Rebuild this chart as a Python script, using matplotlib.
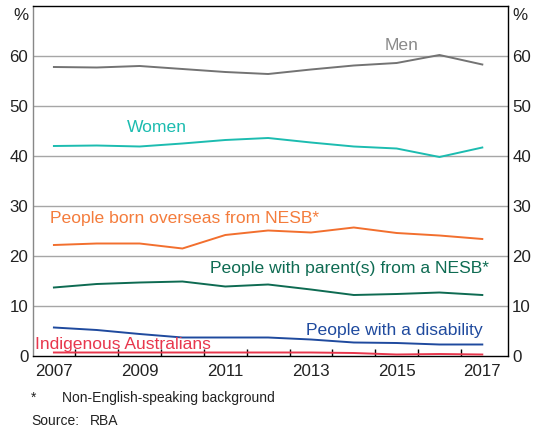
import matplotlib
matplotlib.use("Agg")
import matplotlib.pyplot as plt
from matplotlib.ticker import FixedLocator, NullFormatter

plt.rcParams['font.family'] = ['Liberation Sans', 'DejaVu Sans']

years = [2007, 2008, 2009, 2010, 2011, 2012, 2013, 2014, 2015, 2016, 2017]
men = [57.8, 57.7, 58.0, 57.4, 56.8, 56.4, 57.3, 58.1, 58.6, 60.2, 58.3]
women = [42.0, 42.1, 41.9, 42.5, 43.2, 43.6, 42.7, 41.9, 41.5, 39.8, 41.7]
born_nesb = [22.2, 22.5, 22.5, 21.5, 24.2, 25.1, 24.7, 25.7, 24.6, 24.1, 23.4]
parent_nesb = [13.7, 14.4, 14.7, 14.9, 13.9, 14.3, 13.3, 12.2, 12.4, 12.7, 12.2]
disability = [5.7, 5.2, 4.4, 3.7, 3.7, 3.7, 3.3, 2.7, 2.6, 2.3, 2.3]
indigenous = [0.7, 0.7, 0.7, 0.7, 0.7, 0.7, 0.7, 0.6, 0.3, 0.4, 0.3]

series = [
    ("Men", men, "#737373", "#8a8a8a", 402, 46, "center"),
    ("Women", women, "#1cbcb0", "#1cbcb0", 157, 128, "center"),
    ("People born overseas from NESB*", born_nesb, "#f26f2e", "#f47c3c", 50, 218, "left"),
    ("People with parent(s) from a NESB*", parent_nesb, "#0e6b52", "#0e6b52", 489, 268, "right"),
    ("People with a disability", disability, "#1f4a9e", "#1f4a9e", 483, 331, "right"),
    ("Indigenous Australians", indigenous, "#e8374d", "#e8374d", 35, 345, "left"),
]

W, H = 538, 428
fig = plt.figure(figsize=(W / 100, H / 100), dpi=100)
ax = fig.add_axes([32.5 / W, 1 - 356 / H, (508 - 32.5) / W, (356 - 6) / H])

ax.set_xlim(2006.5, 2017.6)
ax.set_ylim(0, 70)

for y in range(10, 70, 10):
    ax.axhline(y, color="#a6a6a6", lw=1.0, zorder=1)

for name, vals, lc, tc, px, py, ha in series:
    ax.plot(years, vals, color=lc, lw=1.4, zorder=3)
    fig.text(px / W, 1 - py / H, name, color=tc, fontsize=12.6,
             ha=ha, va="center")

# Year labels at mid-year, tick marks at year boundaries
ax.xaxis.set_major_locator(FixedLocator([y + 0.5 for y in years[:-1]]))
ax.xaxis.set_major_formatter(NullFormatter())
ax.tick_params(axis="x", which="major", direction="in", length=5,
               width=1, color="black")
for y in years[::2]:
    ax.text(y, -1.6, str(y), ha="center", va="top", fontsize=12.2,
            color="#222222", transform=ax.transData)

ax.set_yticks(range(0, 70, 10))
ax.tick_params(axis="y", which="both", length=0, labelsize=12.2,
               labelcolor="#222222", pad=3, labelleft=True, labelright=True)

for side in ["top", "right", "bottom"]:
    ax.spines[side].set_color("black")
    ax.spines[side].set_linewidth(1.0)
ax.spines["left"].set_color("#888888")
ax.spines["left"].set_linewidth(1.0)

fig.text(28 / W, 1 - 16 / H, "%", ha="right", va="center", fontsize=12.2, color="#222222")
fig.text(512 / W, 1 - 16 / H, "%", ha="left", va="center", fontsize=12.2, color="#222222")

fig.text(31 / W, 1 - 398 / H, "*", ha="left", va="center", fontsize=10, color="#222222")
fig.text(62 / W, 1 - 398 / H, "Non-English-speaking background", ha="left",
         va="center", fontsize=10, color="#222222")
fig.text(31 / W, 1 - 421 / H, "Source:", ha="left", va="center", fontsize=10, color="#222222")
fig.text(90 / W, 1 - 421 / H, "RBA", ha="left", va="center", fontsize=10, color="#222222")

fig.savefig("out.png", dpi=100)
